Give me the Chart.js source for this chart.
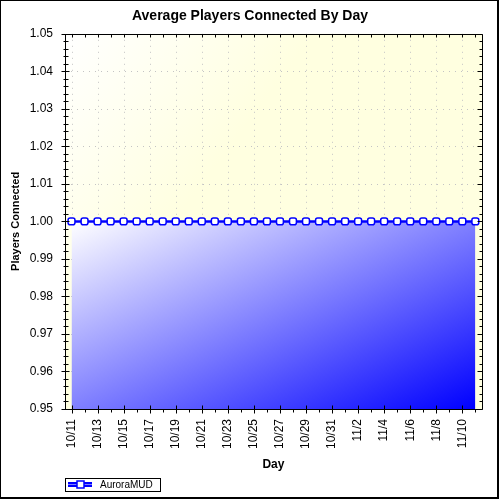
<!DOCTYPE html>
<html lang="en">

<head>
    <meta charset="UTF-8">
    <title>Average Players Connected By Day</title>
    <script src="https://cdn.jsdelivr.net/npm/chart.js"></script>
    <style>
        body {
            margin: 0;
            padding: 0;
            background: #ffffff;
        }

        #chart-wrap {
            width: 500px;
            height: 500px;
            position: relative;
        }
    </style>
</head>

<body>
    <div id="chart-wrap">
        <canvas id="playersChart"></canvas>
    </div>

    <script>
        const days = ['10/11', '10/12', '10/13', '10/14', '10/15', '10/16', '10/17', '10/18',
            '10/19', '10/20', '10/21', '10/22', '10/23', '10/24', '10/25', '10/26',
            '10/27', '10/28', '10/29', '10/30', '10/31', '11/1', '11/2', '11/3',
            '11/4', '11/5', '11/6', '11/7', '11/8', '11/9', '11/10', '11/11'];
        const players = [1, 1, 1, 1, 1, 1, 1, 1, 1, 1, 1, 1, 1, 1, 1, 1,
            1, 1, 1, 1, 1, 1, 1, 1, 1, 1, 1, 1, 1, 1, 1, 1];
        const seriesName = 'AuroraMUD';
        const yMin = 0.95;
        const yMax = 1.05;
        const yStep = 0.01;

        const FONT = "'Liberation Sans', Arial, sans-serif";

        // plot background, dotted grid, frame ticks, legend and outer border
        const decor = {
            id: 'decor',
            beforeDraw(chart) {
                const { ctx, chartArea: a } = chart;
                ctx.save();
                const g = ctx.createLinearGradient(a.left, a.top, a.left + 160, a.top + 120);
                g.addColorStop(0, '#ffffff');
                g.addColorStop(1, '#ffffe0');
                ctx.fillStyle = g;
                ctx.fillRect(a.left, a.top, a.right - a.left, a.bottom - a.top);
                ctx.restore();
            },
            beforeDatasetsDraw(chart) {
                const { ctx, chartArea: a, scales: { x, y } } = chart;
                ctx.save();
                ctx.strokeStyle = '#c4c4c4';
                ctx.lineWidth = 1;
                ctx.setLineDash([1, 5]);
                ctx.beginPath();
                days.forEach((d, i) => {
                    if (i % 2) return;
                    const px = Math.round(x.getPixelForValue(i)) + 0.5;
                    ctx.moveTo(px, a.top);
                    ctx.lineTo(px, a.bottom);
                });
                y.ticks.forEach(t => {
                    const py = Math.round(y.getPixelForValue(t.value)) + 0.5;
                    ctx.moveTo(a.left, py);
                    ctx.lineTo(a.right, py);
                });
                ctx.stroke();
                ctx.restore();
            },
            afterDraw(chart) {
                const { ctx, chartArea: a, scales: { x, y } } = chart;
                const L = Math.round(a.left) + 0.5, R = Math.round(a.right) + 0.5;
                const T = Math.round(a.top) + 0.5, B = Math.round(a.bottom) + 0.5;
                ctx.save();
                ctx.strokeStyle = '#000000';
                ctx.lineWidth = 1;
                ctx.beginPath();
                ctx.rect(L, T, R - L, B - T);

                // x ticks: bottom (major crossing, minor outward) and top (inward)
                days.forEach((d, i) => {
                    const px = Math.round(x.getPixelForValue(i)) + 0.5;
                    if (i % 2 === 0) {
                        ctx.moveTo(px, B - 4);
                        ctx.lineTo(px, B + 4);
                    } else {
                        ctx.moveTo(px, B);
                        ctx.lineTo(px, B + 3);
                    }
                    ctx.moveTo(px, T);
                    ctx.lineTo(px, T + 3);
                });

                // y ticks every 0.002: left crossing, right inward
                for (let k = 0; k <= 50; k++) {
                    const v = yMin + k * 0.002;
                    const py = Math.round(y.getPixelForValue(v)) + 0.5;
                    const major = k % 5 === 0;
                    ctx.moveTo(L - (major ? 4 : 2), py);
                    ctx.lineTo(L + (major ? 4 : 3), py);
                    ctx.moveTo(R, py);
                    ctx.lineTo(R - (major ? 5 : 3), py);
                }
                ctx.stroke();

                // legend
                const label = chart.data.datasets[0].label;
                ctx.strokeRect(65.5, 478.5, 95, 13);
                ctx.fillStyle = '#0000ff';
                ctx.fillRect(68, 482, 24, 5);
                ctx.fillStyle = '#8080ff';
                ctx.fillRect(68, 484, 24, 1);
                ctx.fillStyle = '#ffffff';
                ctx.strokeStyle = '#0000ff';
                ctx.lineWidth = 1.5;
                ctx.fillRect(77, 481, 7, 7);
                ctx.strokeRect(77, 481, 7, 7);
                ctx.fillStyle = '#000000';
                ctx.font = '10px ' + FONT;
                ctx.textBaseline = 'middle';
                ctx.textAlign = 'left';
                ctx.fillText(label, 100, 485);

                // outer border
                ctx.fillRect(0, 0, 499, 1);
                ctx.fillRect(0, 0, 1, 499);
                ctx.fillRect(497, 0, 2, 499);
                ctx.fillRect(0, 497, 499, 2);
                ctx.restore();
            }
        };

        // diagonal gradient whose colour bands run corner to corner, like a forward-diagonal brush
        function diagonalFill(c) {
            const ch = c.chart;
            const a = ch.chartArea;
            if (!a) return 'rgba(0, 0, 255, 0.5)';
            const xs = ch.scales.x, ys = ch.scales.y;
            const x0 = xs.getPixelForValue(0);
            const y0 = ys.getPixelForValue(players[0]);
            const w = xs.getPixelForValue(days.length - 1) - x0;
            const h = a.bottom - y0;
            const t = (2 * w * h) / (w * w + h * h);
            const g = ch.ctx.createLinearGradient(x0, y0, x0 + t * h, y0 + t * w);
            g.addColorStop(0, '#ffffff');
            g.addColorStop(1, '#0000ff');
            return g;
        }

        const ctx = document.getElementById('playersChart').getContext('2d');

        const chart = new Chart(ctx, {
            type: 'line',
            data: {
                labels: days,
                datasets: [
                    {
                        label: seriesName,
                        data: players,
                        borderColor: '#0000ff',
                        borderWidth: 2.5,
                        pointStyle: 'rectRounded',
                        pointRadius: 4,
                        pointBorderWidth: 1.5,
                        pointBorderColor: '#0000ff',
                        pointBackgroundColor: '#ffffff',
                        fill: 'start',
                        backgroundColor: diagonalFill,
                        tension: 0,
                    },
                ],
            },
            options: {
                responsive: true,
                maintainAspectRatio: false,
                animation: false,
                layout: {
                    padding: { left: 0, right: 0, top: 0, bottom: 26 },
                },
                scales: {
                    x: {
                        type: 'category',
                        offset: true,
                        grid: { display: false, drawTicks: false },
                        border: { display: false },
                        ticks: {
                            autoSkip: false,
                            minRotation: 90,
                            maxRotation: 90,
                            padding: 10,
                            color: '#000000',
                            font: { family: FONT, size: 12 },
                            callback: (v, i) => (i % 2 === 0 ? days[i] : ''),
                        },
                        title: {
                            display: true,
                            text: 'Day',
                            color: '#000000',
                            font: { family: FONT, size: 12, weight: 'bold' },
                            padding: { top: 0, bottom: 2 },
                        },
                        afterFit: (s) => { s.height = 65; },
                    },
                    y: {
                        min: yMin,
                        max: yMax,
                        grid: { display: false, drawTicks: false },
                        border: { display: false },
                        ticks: {
                            stepSize: yStep,
                            padding: 12,
                            color: '#000000',
                            font: { family: FONT, size: 12 },
                            callback: (v) => Number(v).toFixed(2),
                        },
                        title: {
                            display: true,
                            text: 'Players Connected',
                            color: '#000000',
                            font: { family: FONT, size: 11, weight: 'bold' },
                            padding: { top: 9, bottom: 0 },
                        },
                        afterFit: (s) => { s.width = 65; },
                    },
                    yRight: {
                        type: 'linear',
                        position: 'right',
                        grid: { display: false, drawTicks: false },
                        border: { display: false },
                        ticks: { display: false },
                        afterFit: (s) => { s.width = 16; },
                    },
                },
                plugins: {
                    legend: { display: false },
                    tooltip: { enabled: false },
                    title: {
                        display: true,
                        text: 'Average Players Connected By Day',
                        color: '#000000',
                        font: { family: FONT, size: 14, weight: 'bold' },
                        padding: { top: 8, bottom: 9 },
                    },
                },
            },
            plugins: [decor],
        });
    </script>
</body>

</html>
